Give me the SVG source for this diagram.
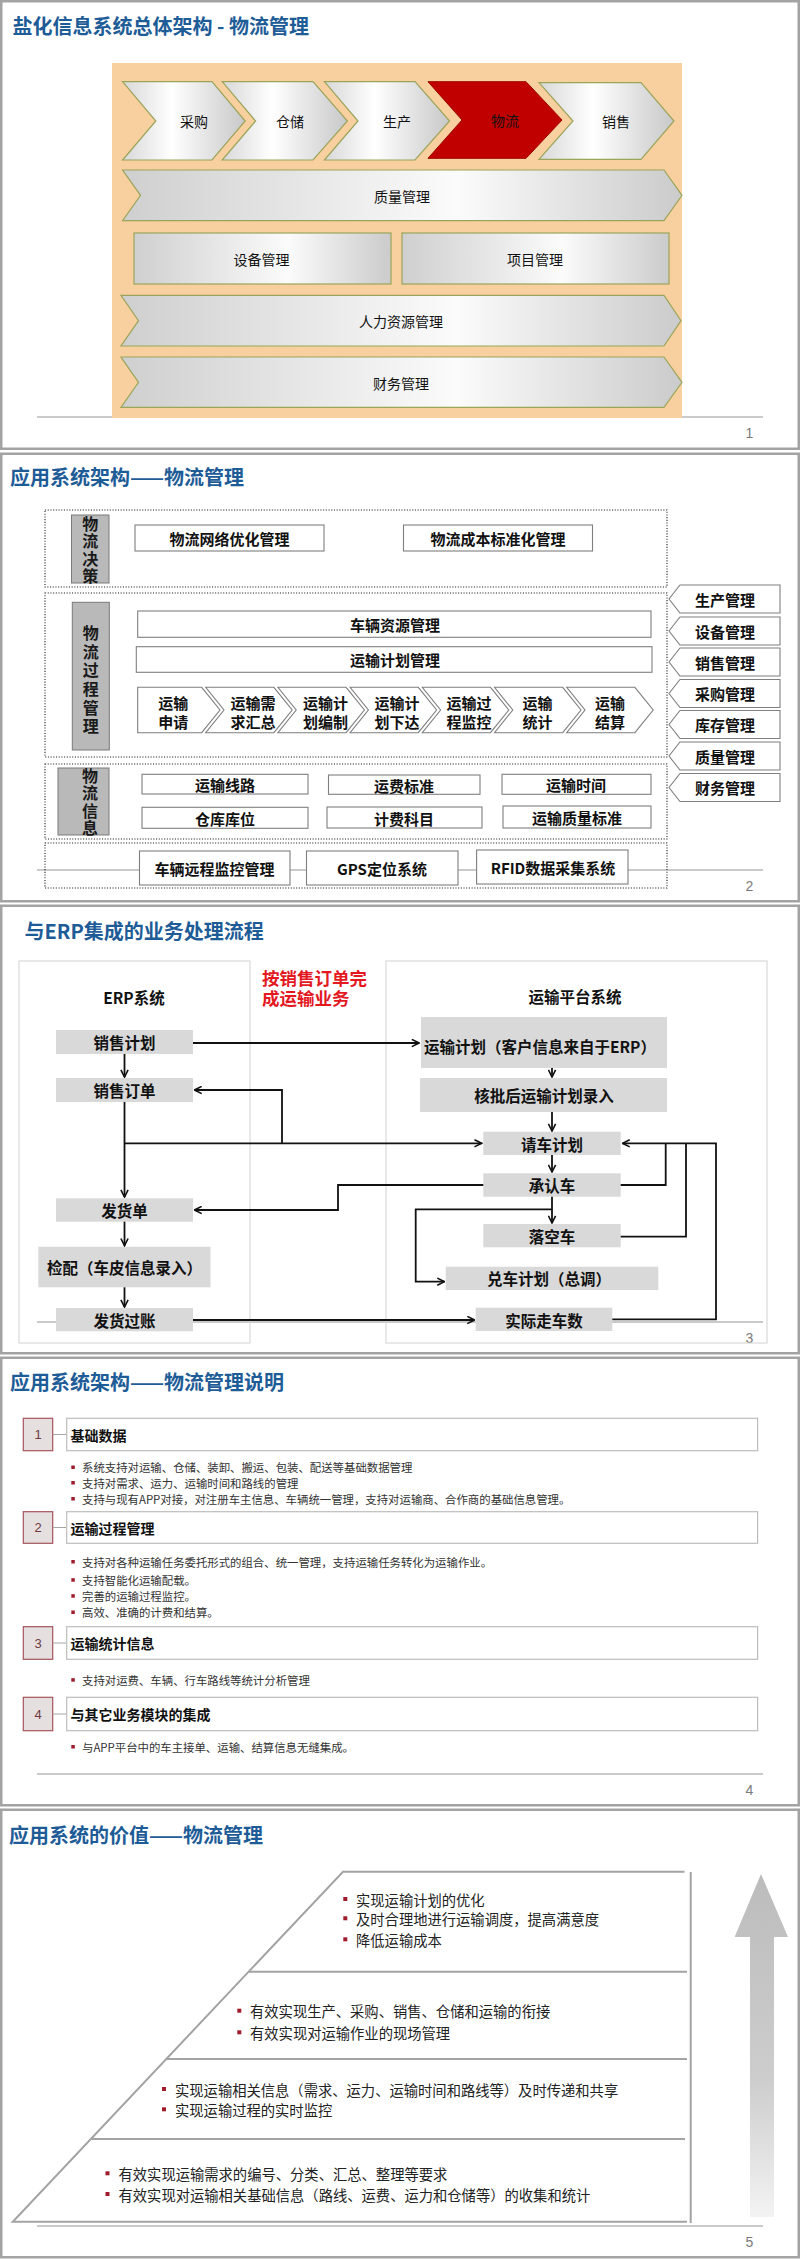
<svg xmlns="http://www.w3.org/2000/svg" width="800" height="2259" viewBox="0 0 800 2259">
<style>
text{font-family:"Noto Sans CJK SC","Liberation Sans",sans-serif;dominant-baseline:central}
.title{font-size:20px;font-weight:bold;fill:#1E5C97}
.slide{fill:#fff;stroke:#a3a3a3;stroke-width:2.5}
.foot{stroke:#cacaca;stroke-width:2;fill:none}
.pg{font-family:"Liberation Sans",sans-serif;font-size:14px;fill:#7a7a7a;text-anchor:middle}
.s1{stroke:#9aa55a;stroke-width:1.2}
.l1{font-size:14px;fill:#111;text-anchor:middle}
.dot{fill:none;stroke:#222;stroke-width:1.1;stroke-dasharray:1.1 1.6}
.lab{fill:#b9b9b9;stroke:#7a7a7a;stroke-width:1}
.vt{font-size:16px;font-weight:bold;fill:#1a1a1a;text-anchor:middle;writing-mode:vertical-rl}
.wb{fill:#fff;stroke:#7f7f7f;stroke-width:1.1}
.b15{font-size:15px;font-weight:bold;fill:#111;text-anchor:middle}
.gb{fill:#d9d9d9}
.b155{font-size:15.5px;font-weight:bold;fill:#111;text-anchor:middle}
.panel{fill:none;stroke:#d2d2d2;stroke-width:1}
.red{font-size:17.5px;font-weight:bold;fill:#E3191F}
.arr{fill:none;stroke:#111;stroke-width:1.8;marker-end:url(#ah)}
.ln{fill:none;stroke:#111;stroke-width:1.8}
.nb{fill:#e6dfe0;stroke:#a3545c;stroke-width:1.2}
.nt{font-family:"Liberation Sans",sans-serif;font-size:13px;fill:#6d3b41;text-anchor:middle}
.tb{fill:#fff;stroke:#bdbdbd;stroke-width:1.2}
.tt{font-size:14px;font-weight:bold;fill:#111}
.con{stroke:#a6a6a6;stroke-width:1}
.bu{fill:#a01c2c}
.bt{font-size:11.4px;fill:#333}
.pl{fill:none;stroke:#a3a3a3;stroke-width:2}
.vt5{font-size:14.3px;fill:#222}
</style>
<defs>
<linearGradient id="gChev" x1="0" y1="0" x2="1" y2="0">
<stop offset="0" stop-color="#d8d8d8"/><stop offset="0.4" stop-color="#ffffff"/><stop offset="1" stop-color="#c8c8c8"/>
</linearGradient>
<linearGradient id="gBar" x1="0" y1="0" x2="1" y2="0">
<stop offset="0" stop-color="#cfcfcf"/><stop offset="0.6" stop-color="#fbfbfb"/><stop offset="1" stop-color="#cbcbcb"/>
</linearGradient>
<linearGradient id="gUp" x1="0" y1="0" x2="0" y2="1">
<stop offset="0" stop-color="#bcbcbc"/><stop offset="0.6" stop-color="#cdcdcd"/><stop offset="1" stop-color="#f3f3f3"/>
</linearGradient>
<marker id="ah" viewBox="0 0 10 10" refX="9" refY="5" markerWidth="9" markerHeight="9" markerUnits="userSpaceOnUse" orient="auto">
<path d="M1,1 L9,5 L1,9" fill="none" stroke="#111" stroke-width="1.8"/>
</marker>
</defs>
<rect width="800" height="2259" fill="#fff"/>

<!-- ================= SLIDE 1 ================= -->
<g id="slide1">
<rect class="slide" x="1.25" y="1.25" width="797.5" height="447.5"/>
<text class="title" x="12.5" y="25">盐化信息系统总体架构 - 物流管理</text>
<line class="foot" x1="37" y1="417" x2="763" y2="417"/>
<rect x="112" y="63" width="570" height="355" fill="#F8CF9F"/>
<text class="pg" x="749.5" y="433">1</text>
</g>
<g id="n-caigou"><path class="s1" fill="url(#gChev)" d="M122.6,81.7 L212,81.7 L245.2,121 L212,160 L122.6,160 L155.8,121 Z"/><text class="l1" x="194" y="121">采购</text></g>
<g id="n-cangchu"><path class="s1" fill="url(#gChev)" d="M222.2,81.7 L313,81.7 L347.4,121 L313,160 L222.2,160 L255.6,121 Z"/><text class="l1" x="290" y="121">仓储</text></g>
<g id="n-shengchan"><path class="s1" fill="url(#gChev)" d="M324.4,81.7 L415,81.7 L449.6,121 L415,160 L324.4,160 L358,121 Z"/><text class="l1" x="397" y="121">生产</text></g>
<g id="n-wuliu"><path fill="#C00000" stroke="#a00000" stroke-width="1" d="M428,81.7 L526,81.7 L562,120 L526,158.3 L428,158.3 L462,120 Z"/><text class="l1" x="505" y="120" fill="#2a0000">物流</text></g>
<g id="n-xiaoshou"><path class="s1" fill="url(#gChev)" d="M539,82.7 L641,82.7 L674,121 L641,159.3 L539,159.3 L573,121 Z"/><text class="l1" x="616" y="121">销售</text></g>
<g id="n-zhiliang"><path class="s1" fill="url(#gBar)" d="M122.6,170 L664,170 L682,195.3 L664,220.7 L122.6,220.7 L140.5,195.3 Z"/><text class="l1" x="402" y="196">质量管理</text></g>
<g id="n-shebei"><rect class="s1" fill="url(#gBar)" x="134" y="233" width="257" height="51"/><text class="l1" x="261.5" y="259">设备管理</text></g>
<g id="n-xiangmu"><rect class="s1" fill="url(#gBar)" x="402" y="233" width="267" height="51"/><text class="l1" x="535" y="259">项目管理</text></g>
<g id="n-renli"><path class="s1" fill="url(#gBar)" d="M121,295.3 L664,295.3 L681,320.7 L664,346 L121,346 L138.5,320.7 Z"/><text class="l1" x="401" y="321">人力资源管理</text></g>
<g id="n-caiwu"><path class="s1" fill="url(#gBar)" d="M121,357 L664,357 L682,382.3 L664,407.3 L121,407.3 L138.5,382.3 Z"/><text class="l1" x="401" y="382.5">财务管理</text></g>

<!-- ================= SLIDE 2 ================= -->
<g id="slide2">
<rect class="slide" x="1.25" y="453.75" width="797.5" height="447.5"/>
<text class="title" x="10" y="476">应用系统架构——物流管理</text>
<line class="foot" x1="37" y1="870" x2="763" y2="870"/>
<text class="pg" x="749.5" y="886">2</text>
<rect class="dot" x="45" y="510" width="622" height="77"/>
<rect class="dot" x="45" y="593" width="622" height="164"/>
<rect class="dot" x="45" y="764" width="622" height="75"/>
<rect class="dot" x="45" y="843" width="622" height="45" fill="#fff"/>
</g>
<g id="n-juece"><rect class="lab" x="71.5" y="515" width="37.5" height="68"/>
<text class="vt" x="90.3" y="550.5" letter-spacing="1.5">物流决策</text></g>
<g id="n-guocheng"><rect class="lab" x="72.3" y="602.3" width="37" height="147.7"/>
<text class="vt" x="90.7" y="681" letter-spacing="2.6">物流过程管理</text></g>
<g id="n-xinxi"><rect class="lab" x="58" y="768" width="51" height="67"/>
<text class="vt" x="90" y="802.8" letter-spacing="1.6">物流信息</text></g>
<g id="n-wlyh"><rect class="wb" x="135" y="525" width="189" height="26"/><text class="b15" x="229.5" y="538">物流网络优化管理</text></g>
<g id="n-wlcb"><rect class="wb" x="403.5" y="525" width="189" height="26"/><text class="b15" x="498" y="538">物流成本标准化管理</text></g>
<g id="n-clzy"><rect class="wb" x="137.7" y="611" width="513.3" height="26.3"/><text class="b15" x="395" y="624.5">车辆资源管理</text></g>
<g id="n-ysjh"><rect class="wb" x="136.3" y="646.7" width="515.7" height="25.6"/><text class="b15" x="395" y="659.5">运输计划管理</text></g>
<g id="n-p1"><path class="wb" d="M137.7,687.3 L201.7,687.3 L220,710 L201.7,732.7 L137.7,732.7 Z"/><text class="b15" x="173.3" y="702.5">运输</text><text class="b15" x="173.3" y="721">申请</text></g>
<g id="n-p2"><path class="wb" d="M205.7,687.3 L273.9,687.3 L292.2,710 L273.9,732.7 L205.7,732.7 L224,710 Z"/><text class="b15" x="253" y="702.5">运输需</text><text class="b15" x="253" y="721">求汇总</text></g>
<g id="n-p3"><path class="wb" d="M277.9,687.3 L346.1,687.3 L364.4,710 L346.1,732.7 L277.9,732.7 L296.2,710 Z"/><text class="b15" x="325.5" y="702.5">运输计</text><text class="b15" x="325.5" y="721">划编制</text></g>
<g id="n-p4"><path class="wb" d="M350.1,687.3 L418.3,687.3 L436.6,710 L418.3,732.7 L350.1,732.7 L368.4,710 Z"/><text class="b15" x="397" y="702.5">运输计</text><text class="b15" x="397" y="721">划下达</text></g>
<g id="n-p5"><path class="wb" d="M422.3,687.3 L490.5,687.3 L508.8,710 L490.5,732.7 L422.3,732.7 L440.6,710 Z"/><text class="b15" x="469" y="702.5">运输过</text><text class="b15" x="469" y="721">程监控</text></g>
<g id="n-p6"><path class="wb" d="M494.5,687.3 L562.7,687.3 L581,710 L562.7,732.7 L494.5,732.7 L512.8,710 Z"/><text class="b15" x="537.5" y="702.5">运输</text><text class="b15" x="537.5" y="721">统计</text></g>
<g id="n-p7"><path class="wb" d="M566.7,687.3 L634.9,687.3 L653.2,710 L634.9,732.7 L566.7,732.7 L585,710 Z"/><text class="b15" x="610" y="702.5">运输</text><text class="b15" x="610" y="721">结算</text></g>
<g id="n-i1"><rect class="wb" x="142" y="774.3" width="166" height="19.7"/><text class="b15" x="225" y="784">运输线路</text></g>
<g id="n-i2"><rect class="wb" x="328.5" y="775" width="151.5" height="19.3"/><text class="b15" x="404" y="785">运费标准</text></g>
<g id="n-i3"><rect class="wb" x="502" y="774.3" width="149" height="20"/><text class="b15" x="576" y="784.3">运输时间</text></g>
<g id="n-i4"><rect class="wb" x="142" y="807.3" width="166" height="21"/><text class="b15" x="225" y="818">仓库库位</text></g>
<g id="n-i5"><rect class="wb" x="327" y="807" width="155" height="21"/><text class="b15" x="404" y="818">计费科目</text></g>
<g id="n-i6"><rect class="wb" x="503" y="806" width="148" height="22"/><text class="b15" x="577" y="817">运输质量标准</text></g>
<g id="n-s1"><rect class="wb" x="139.5" y="851" width="150.5" height="34"/><text class="b15" x="214.5" y="868">车辆远程监控管理</text></g>
<g id="n-s2"><rect class="wb" x="306.5" y="851" width="151.5" height="34"/><text class="b15" x="382" y="868">GPS定位系统</text></g>
<g id="n-s3"><rect class="wb" x="476.6" y="850" width="151.4" height="34"/><text class="b15" x="553" y="867">RFID数据采集系统</text></g>
<g id="n-m1"><path class="wb" d="M680,585 L780,585 L780,613 L680,613 L669,599 Z"/><text class="b15" x="725" y="599">生产管理</text></g>
<g id="n-m2"><path class="wb" d="M680,617 L780,617 L780,645 L680,645 L669,631 Z"/><text class="b15" x="725" y="631">设备管理</text></g>
<g id="n-m3"><path class="wb" d="M680,648 L780,648 L780,676 L680,676 L669,662 Z"/><text class="b15" x="725" y="662">销售管理</text></g>
<g id="n-m4"><path class="wb" d="M680,679.5 L780,679.5 L780,707.5 L680,707.5 L669,693.5 Z"/><text class="b15" x="725" y="693.5">采购管理</text></g>
<g id="n-m5"><path class="wb" d="M680,710.5 L780,710.5 L780,738.5 L680,738.5 L669,724.5 Z"/><text class="b15" x="725" y="724.5">库存管理</text></g>
<g id="n-m6"><path class="wb" d="M680,742 L780,742 L780,770 L680,770 L669,756 Z"/><text class="b15" x="725" y="756">质量管理</text></g>
<g id="n-m7"><path class="wb" d="M680,773.5 L780,773.5 L780,801.5 L680,801.5 L669,787.5 Z"/><text class="b15" x="725" y="787.5">财务管理</text></g>

<!-- ================= SLIDE 3 ================= -->
<g id="slide3">
<rect class="slide" x="1.25" y="905.75" width="797.5" height="447.5"/>
<text class="title" x="24.5" y="930">与ERP集成的业务处理流程</text>
<line class="foot" x1="37" y1="1322" x2="763" y2="1322"/>
<text class="pg" x="749.5" y="1338">3</text>
<rect class="panel" x="19" y="961" width="231" height="382"/>
<rect class="panel" x="386" y="961" width="381" height="382"/>
<text class="b155" x="134" y="997">ERP系统</text>
<text class="red" x="262" y="977"><tspan x="262" y="977">按销售订单完</tspan><tspan x="262" y="997">成运输业务</tspan></text>
<text class="b155" x="575" y="996">运输平台系统</text>
</g>
<g id="n-xsjh"><rect class="gb" x="56" y="1030" width="137" height="24"/><text class="b155" x="124.5" y="1042">销售计划</text></g>
<g id="n-xsdd"><rect class="gb" x="56" y="1078" width="137" height="24"/><text class="b155" x="124.5" y="1090">销售订单</text></g>
<g id="n-ysjh2"><rect class="gb" x="421" y="1017" width="246" height="51"/><text class="b155" x="540" y="1045.5">运输计划（客户信息来自于ERP）</text></g>
<g id="n-hph"><rect class="gb" x="420" y="1078" width="247" height="34"/><text class="b155" x="544" y="1095">核批后运输计划录入</text></g>
<g id="n-qcjh"><rect class="gb" x="483.3" y="1131.7" width="137.4" height="23.3"/><text class="b155" x="552" y="1143.5">请车计划</text></g>
<g id="n-crc"><rect class="gb" x="483.3" y="1173.3" width="137.4" height="23.4"/><text class="b155" x="552" y="1185">承认车</text></g>
<g id="n-lkc"><rect class="gb" x="483.3" y="1224" width="137.4" height="23.3"/><text class="b155" x="552" y="1235.7">落空车</text></g>
<g id="n-dcjh"><rect class="gb" x="445.7" y="1266.7" width="212.6" height="23.3"/><text class="b155" x="549" y="1278.3">兑车计划（总调）</text></g>
<g id="n-sjzc"><rect class="gb" x="475.7" y="1307.7" width="136.6" height="23.3"/><text class="b155" x="544" y="1319.5">实际走车数</text></g>
<g id="n-fhd"><rect class="gb" x="56" y="1198.3" width="137" height="23.4"/><text class="b155" x="124.5" y="1210">发货单</text></g>
<g id="n-jp"><rect class="gb" x="38.3" y="1246.7" width="172.2" height="40.6"/><text class="b155" x="124.5" y="1267">检配（车皮信息录入）</text></g>
<g id="n-fhgz"><rect class="gb" x="56" y="1308" width="137" height="23.3"/><text class="b155" x="124.5" y="1320">发货过账</text></g>
<g id="connectors">
<path class="arr" d="M193,1043 H419"/>
<path class="arr" d="M124.5,1054 V1077"/>
<path class="arr" d="M552,1068 V1077"/>
<path class="arr" d="M552,1112 V1131"/>
<path class="arr" d="M124.5,1102 V1197"/>
<path class="arr" d="M124.5,1143.3 H481.7"/>
<path class="arr" d="M282,1143.3 V1090 H194.5"/>
<path class="arr" d="M552,1155 V1172"/>
<path class="arr" d="M483.3,1185 H338 V1210 H194.5"/>
<path class="arr" d="M552,1196.7 V1223"/>
<path class="arr" d="M552,1209.3 H415.7 V1281.7 H444.5"/>
<path class="ln" d="M620.7,1185 H665.7 V1143.3"/>
<path class="ln" d="M620.7,1236.7 H686 V1143.3"/>
<path class="arr" d="M612.3,1319.3 H716 V1143.3 H622.5"/>
<path class="arr" d="M124.5,1221.7 V1245.7"/>
<path class="arr" d="M124.5,1287.3 V1307"/>
<path class="arr" d="M193,1320 H474.5"/>
</g>

<!-- ================= SLIDE 4 ================= -->
<g id="slide4">
<rect class="slide" x="1.25" y="1357.75" width="797.5" height="447.5"/>
<text class="title" x="10" y="1381.5">应用系统架构——物流管理说明</text>
<line class="foot" x1="37" y1="1774" x2="763" y2="1774"/>
<text class="pg" x="749.5" y="1790">4</text>
</g>
<g id="n-item1">
<rect class="nb" x="23.3" y="1418.3" width="29.4" height="32.4"/><text class="nt" x="38" y="1434.5">1</text>
<line class="con" x1="52.7" y1="1434.5" x2="66.7" y2="1434.5"/>
<rect class="tb" x="66.7" y="1418.3" width="690.9" height="32.4"/><text class="tt" x="70.5" y="1434.5">基础数据</text>
<rect class="bu" x="71.3" y="1465.5" width="3.5" height="3.5"/><text class="bt" x="82" y="1467.3">系统支持对运输、仓储、装卸、搬运、包装、配送等基础数据管理</text>
<rect class="bu" x="71.3" y="1481" width="3.5" height="3.5"/><text class="bt" x="82" y="1482.8">支持对需求、运力、运输时间和路线的管理</text>
<rect class="bu" x="71.3" y="1497" width="3.5" height="3.5"/><text class="bt" x="82" y="1498.8">支持与现有APP对接，对注册车主信息、车辆统一管理，支持对运输商、合作商的基础信息管理。</text>
</g>
<g id="n-item2">
<rect class="nb" x="23.3" y="1511.7" width="29.4" height="31.6"/><text class="nt" x="38" y="1527.5">2</text>
<line class="con" x1="52.7" y1="1527.5" x2="66.7" y2="1527.5"/>
<rect class="tb" x="66.7" y="1511.7" width="690.9" height="31.6"/><text class="tt" x="70.5" y="1527.5">运输过程管理</text>
<rect class="bu" x="71.3" y="1560" width="3.5" height="3.5"/><text class="bt" x="82" y="1561.8">支持对各种运输任务委托形式的组合、统一管理，支持运输任务转化为运输作业。</text>
<rect class="bu" x="71.3" y="1578.2" width="3.5" height="3.5"/><text class="bt" x="82" y="1580">支持智能化运输配载。</text>
<rect class="bu" x="71.3" y="1594.2" width="3.5" height="3.5"/><text class="bt" x="82" y="1596">完善的运输过程监控。</text>
<rect class="bu" x="71.3" y="1610.5" width="3.5" height="3.5"/><text class="bt" x="82" y="1612.3">高效、准确的计费和结算。</text>
</g>
<g id="n-item3">
<rect class="nb" x="23.3" y="1626.7" width="29.4" height="32.6"/><text class="nt" x="38" y="1643">3</text>
<line class="con" x1="52.7" y1="1643" x2="66.7" y2="1643"/>
<rect class="tb" x="66.7" y="1626.7" width="690.9" height="32.6"/><text class="tt" x="70.5" y="1643">运输统计信息</text>
<rect class="bu" x="71.3" y="1678.2" width="3.5" height="3.5"/><text class="bt" x="82" y="1680">支持对运费、车辆、行车路线等统计分析管理</text>
</g>
<g id="n-item4">
<rect class="nb" x="23.3" y="1697.3" width="29.4" height="33.4"/><text class="nt" x="38" y="1714">4</text>
<line class="con" x1="52.7" y1="1714" x2="66.7" y2="1714"/>
<rect class="tb" x="66.7" y="1697.3" width="690.9" height="33.4"/><text class="tt" x="70.5" y="1714">与其它业务模块的集成</text>
<rect class="bu" x="71.3" y="1745" width="3.5" height="3.5"/><text class="bt" x="82" y="1746.8">与APP平台中的车主接单、运输、结算信息无缝集成。</text>
</g>

<!-- ================= SLIDE 5 ================= -->
<g id="slide5">
<rect class="slide" x="1.25" y="1809.75" width="797.5" height="447.5"/>
<text class="title" x="9" y="1834">应用系统的价值——物流管理</text>
<line class="foot" x1="37" y1="2226" x2="763" y2="2226"/>
<text class="pg" x="749.5" y="2242">5</text>
<path class="pl" d="M684.5,1871.7 H343 L12.8,2221.7 H687"/>
<path class="pl" d="M249,1971.7 H687"/>
<path class="pl" d="M166,2059 H687"/>
<path class="pl" d="M92,2139 H685"/>
<path class="pl" d="M690.7,1872 V2223"/>
<polygon points="761,1874 788,1937 774,1937 774,2217 750,2217 750,1937 734.6,1937" fill="url(#gUp)"/>
</g>
<g id="n-v1">
<rect class="bu" x="343.3" y="1897" width="4" height="4"/><text class="vt5" x="356" y="1899">实现运输计划的优化</text>
<rect class="bu" x="343.3" y="1916.3" width="4" height="4"/><text class="vt5" x="356" y="1918.3">及时合理地进行运输调度，提高满意度</text>
<rect class="bu" x="343.3" y="1937.3" width="4" height="4"/><text class="vt5" x="356" y="1939.3">降低运输成本</text>
</g>
<g id="n-v2">
<rect class="bu" x="237.3" y="2008.7" width="4" height="4"/><text class="vt5" x="250" y="2010.7">有效实现生产、采购、销售、仓储和运输的衔接</text>
<rect class="bu" x="237.3" y="2030.3" width="4" height="4"/><text class="vt5" x="250" y="2032.3">有效实现对运输作业的现场管理</text>
</g>
<g id="n-v3">
<rect class="bu" x="162" y="2087" width="4" height="4"/><text class="vt5" x="175" y="2089">实现运输相关信息（需求、运力、运输时间和路线等）及时传递和共享</text>
<rect class="bu" x="162" y="2107.3" width="4" height="4"/><text class="vt5" x="175" y="2109.3">实现运输过程的实时监控</text>
</g>
<g id="n-v4">
<rect class="bu" x="105.5" y="2171.3" width="4" height="4"/><text class="vt5" x="118.5" y="2173.3">有效实现运输需求的编号、分类、汇总、整理等要求</text>
<rect class="bu" x="105.5" y="2192" width="4" height="4"/><text class="vt5" x="118.5" y="2194">有效实现对运输相关基础信息（路线、运费、运力和仓储等）的收集和统计</text>
</g>
</svg>
